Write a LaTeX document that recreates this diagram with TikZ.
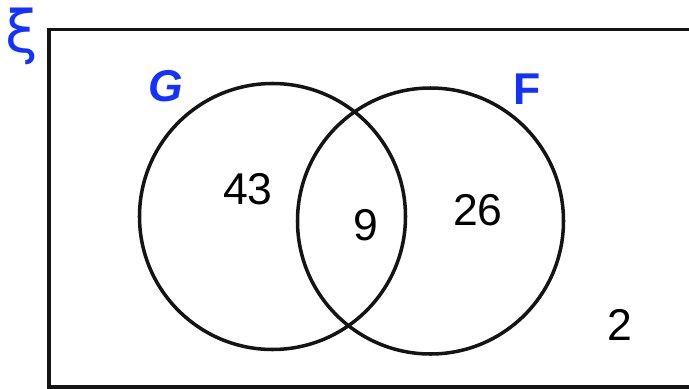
\documentclass[tikz,border=0pt]{standalone}
\usepackage{fontspec}
\setmainfont{Liberation Sans}
\newfontfamily\greekfont{DejaVu Sans}
\usepackage{xcolor}
\definecolor{vnblue}{RGB}{20,50,255}
\definecolor{vnblack}{RGB}{20,20,20}
\tikzset{
    setring/.style={
        draw=vnblack,line width=3pt
    },
    setname/.style={
        text=vnblue,font=\fontsize{38}{38}\selectfont\bfseries
    },
    count/.style={
        text=black,font=\fontsize{38}{38}\selectfont
    }
}

\begin{document}
\begin{tikzpicture}[x=0.03cm,y=-0.03cm]

\useasboundingbox (0,0) rectangle (689,389);
\clip (0,0) rectangle (689,389);

% universal set
\draw[draw=vnblack,line width=3.4pt] (49,29.5) rectangle (740,387);
\node[text=vnblue,font=\greekfont\fontsize{50}{50}\selectfont] (xi) at (22,36) {ξ};

% the two sets
\draw[setring] (272.5,216.5) circle (133);
\draw[setring] (430.5,221) circle (133);
\node[setname] (g) at (166,86) {\itshape G};
\node[setname] (f) at (527,89) {F};

% region counts
\node[count] (onlyg) at (248,189) {43};
\node[count] (both) at (366,225) {9};
\node[count] (onlyf) at (478,210) {26};
\node[count] (none) at (620,325) {2};

\end{tikzpicture}
\end{document}
